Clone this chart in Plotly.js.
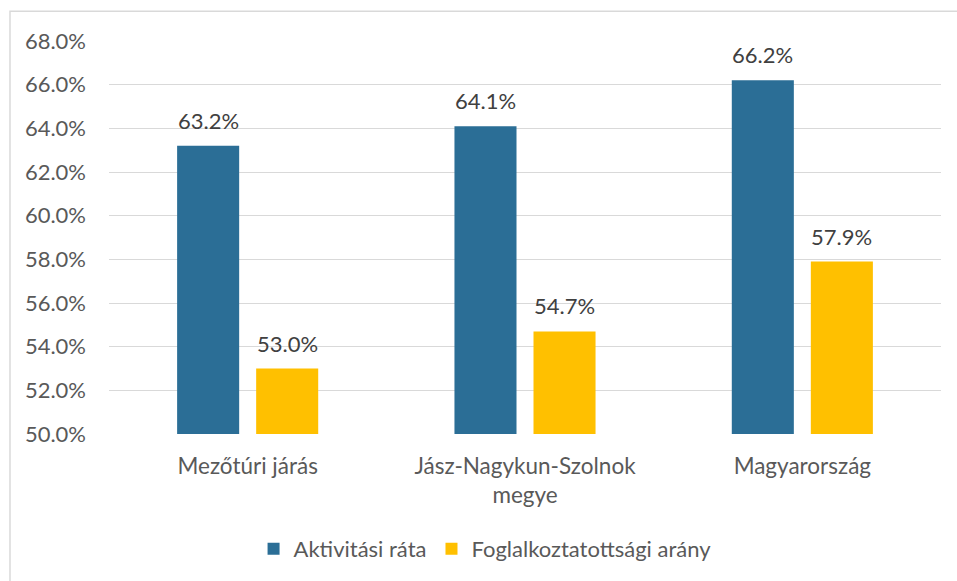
<!DOCTYPE html>
<html>
<head>
<meta charset="utf-8">
<script src="https://cdn.plot.ly/plotly-3.0.1.min.js"></script>
<style>
html,body{margin:0;padding:0;background:#fff;}
#chart{width:957px;height:581px;}
</style>
</head>
<body>
<div id="chart"></div>
<script>
const categories = ["Mezőtúri járás", "Jász-Nagykun-Szolnok<br>megye", "Magyarország"];
const seriesNames = ["Aktivitási ráta", "Foglalkoztatottsági arány"];
const aktivitasi = [63.2, 64.1, 66.2];
const foglalkoztatottsagi = [53.0, 54.7, 57.9];
const tickVals = [50, 52, 54, 56, 58, 60, 62, 64, 66, 68];
const tickText = tickVals.map(v => v.toFixed(1) + '%');

const FONT = "Lato, 'Open Sans', sans-serif";

const traces = [
  {
    type: 'bar', name: seriesNames[0], x: categories, y: aktivitasi,
    marker: {color: '#2B6E96'}, hoverinfo: 'skip'
  },
  {
    type: 'bar', name: seriesNames[1], x: categories, y: foglalkoztatottsagi,
    marker: {color: '#FFC000'}, hoverinfo: 'skip'
  }
];

// data labels placed on the axes at each bar's value
const slotShift = 39.5;
const annotations = [];
[aktivitasi, foglalkoztatottsagi].forEach((vals, s) => {
  vals.forEach((v, i) => {
    annotations.push({
      x: categories[i], y: v, xref: 'x', yref: 'y',
      text: v.toFixed(1) + '%', showarrow: false,
      xshift: s === 0 ? -slotShift : slotShift, yshift: 10, yanchor: 'bottom',
      font: {family: FONT, size: 22, color: '#404040'}
    });
  });
});

const layout = {
  width: 957, height: 581,
  margin: {l: 109, r: 16, t: 41, b: 146},
  paper_bgcolor: '#ffffff', plot_bgcolor: '#ffffff',
  font: {family: FONT, size: 22, color: '#595959'},
  barmode: 'group', bargap: 0.43, bargroupgap: 0.215,
  showlegend: true,
  legend: {orientation: 'h', x: 0.452, xanchor: 'center', y: -0.289, yanchor: 'middle',
           font: {family: FONT, size: 22, color: '#595959'}, itemwidth: 30, traceorder: 'normal'},
  xaxis: {type: 'category', showgrid: false, showline: false, ticks: '', zeroline: false,
          tickfont: {family: FONT, size: 22.5, color: '#595959'}, ticklabelstandoff: 16},
  yaxis: {range: [50, 68], tickvals: tickVals, ticktext: tickText, tickmode: 'array',
          showgrid: true, gridcolor: '#D9D9D9', gridwidth: 1, zeroline: false, showline: false,
          ticks: '', tickfont: {family: FONT, size: 22, color: '#595959'}, ticklabelstandoff: 22},
  annotations: annotations,
  shapes: [{type: 'rect', xref: 'paper', yref: 'paper', x0: -0.119, x1: 1.2, y0: -0.6, y1: 1.076,
            line: {color: '#D9D9D9', width: 1.5}, fillcolor: 'rgba(0,0,0,0)', layer: 'below'}]
};

Plotly.newPlot('chart', traces, layout, {displayModeBar: false, staticPlot: true});
</script>
</body>
</html>
